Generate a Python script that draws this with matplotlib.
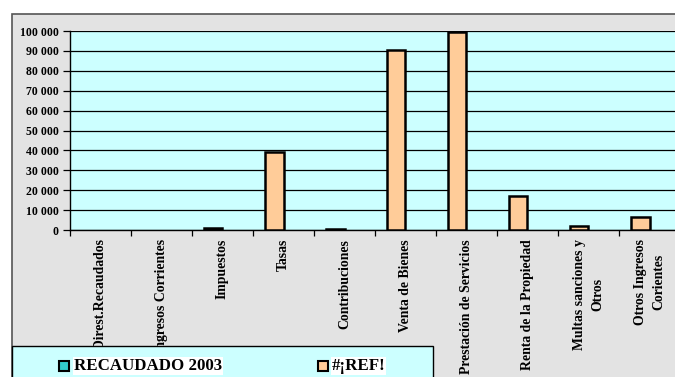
import matplotlib
matplotlib.use("Agg")
import matplotlib.pyplot as plt
from matplotlib.patches import Rectangle
import numpy as np

categories = ["Ingresos Direst.Recaudados", "Ingresos Corrientes", "Impuestos", "Tasas",
              "Contribuciones", "Venta de Bienes", "Prestación de Servicios",
              "Renta de la Propiedad", "Multas sanciones y\nOtros", "Otros Ingresos\nCorientes"]
recaudado_2003 = [0, 0, 0, 0, 0, 0, 0, 0, 0, 0]
ref_values = [0, 0, 900, 39000, 500, 90500, 99500, 17000, 2000, 6500]
yticks = list(range(0, 100001, 10000))
ytick_labels = [f"{v:,}".replace(",", " ") for v in yticks]
series_names = ["RECAUDADO 2003", "#¡REF!"]

W, H = 675, 377
fig = plt.figure(figsize=(W / 100, H / 100), dpi=100)
fig.patch.set_facecolor("white")

def fx(px):
    return px / W

def fy(py):
    return 1 - py / H

# chart area background with frame
bg = Rectangle((fx(12), -0.01), 1.0, fy(14) + 0.01, transform=fig.transFigure,
               facecolor="#e3e3e3", edgecolor="#555555", linewidth=1.2, zorder=-5)
fig.patches.append(bg)

ax = fig.add_axes([fx(70), fy(230), fx(680) - fx(70), fy(31) - fy(230)])
ax.set_zorder(1)
ax.set_facecolor("#CCFFFF")
font = dict(family="Liberation Serif", weight="bold")

x = np.arange(len(categories))
bw = 0.31
ref_lw = [1.8 if v > 0 else 0 for v in ref_values]
rec_lw = [1.8 if v > 0 else 0 for v in recaudado_2003]
ax.bar(x - bw / 2, ref_values, width=bw, color="#FFCC99", edgecolor="black",
       linewidth=ref_lw, zorder=3)
ax.bar(x + bw / 2, recaudado_2003, width=bw, color="#33CCCC", edgecolor="black",
       linewidth=rec_lw, zorder=3)

ax.set_xlim(-0.5, len(categories) - 0.5)
ax.set_ylim(0, 100000)
ax.set_yticks(yticks)
ax.set_yticklabels(ytick_labels, fontdict=dict(size=8.5, **font))
ax.yaxis.grid(True, color="black", linewidth=0.9, zorder=1)
ax.set_axisbelow(True)
ax.tick_params(axis="y", length=5, width=0.9, pad=3, direction="out")

ax.set_xticks(np.arange(len(categories) + 1) - 0.5, minor=False)
ax.set_xticklabels([])
ax.tick_params(axis="x", length=4, width=0.9, direction="out")
for i, c in enumerate(categories):
    ax.text(i, -0.045, c, transform=ax.get_xaxis_transform(), rotation=90,
            ha="center", va="top", size=9.9, multialignment="center",
            linespacing=1.55, zorder=1, **font)

for s in ["top", "right"]:
    ax.spines[s].set_visible(False)
for s in ["left", "bottom"]:
    ax.spines[s].set_linewidth(1.0)

# legend box
leg = Rectangle((fx(12), -0.01), fx(433) - fx(12), fy(346) + 0.01, transform=fig.transFigure,
                facecolor="#CCFFFF", edgecolor="black", linewidth=1.0, zorder=10)
fig.patches.append(leg)
for (mx, tx, name, col) in [(59, 74, series_names[0], "#33CCCC"),
                            (318, 332, series_names[1], "#FFCC99")]:
    fig.patches.append(Rectangle((fx(mx), fy(371)), fx(10), fy(361) - fy(371),
                                 transform=fig.transFigure, facecolor=col,
                                 edgecolor="black", linewidth=1.5, zorder=11))
    fig.text(fx(tx), fy(366), name, ha="left", va="center", size=12.2,
             zorder=12, bbox=dict(facecolor="white", edgecolor="none", pad=0.5),
             **font)

fig.savefig("out.png", dpi=100)
